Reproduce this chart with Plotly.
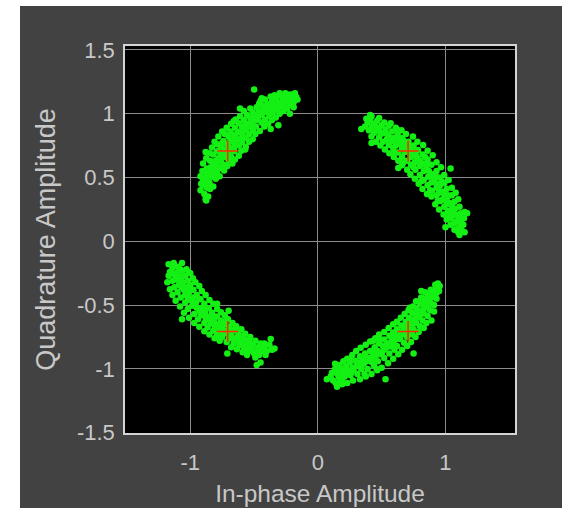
import plotly.graph_objects as go

# Received QPSK symbols (in-phase, quadrature), one cluster per quadrant
ul_i = [-0.86, -0.89, -0.92, -0.88, -0.875,
        -0.82, -0.85, -0.87, -0.90, -0.92, -0.86, -0.88,
        -0.77, -0.79, -0.83, -0.84, -0.87, -0.90, -0.81, -0.80,
        -0.71, -0.74, -0.76, -0.78, -0.80, -0.82, -0.85, -0.88, -0.75, -0.79,
        -0.65, -0.68, -0.70, -0.72, -0.74, -0.76, -0.79, -0.81, -0.71, -0.75, -0.57,
        -0.60, -0.62, -0.65, -0.67, -0.69, -0.70, -0.73, -0.75, -0.64, -0.66,
        -0.54, -0.56, -0.59, -0.61, -0.63, -0.65, -0.68, -0.58, -0.60, -0.66,
        -0.49, -0.51, -0.53, -0.55, -0.57, -0.58, -0.61, -0.52, -0.56, -0.61,
        -0.42, -0.44, -0.47, -0.48, -0.50, -0.51, -0.53, -0.46, -0.37, -0.46,
        -0.36, -0.38, -0.40, -0.42, -0.43, -0.45, -0.39, -0.31, -0.50, -0.44,
        -0.30, -0.32, -0.33, -0.35, -0.36, -0.37, -0.31, -0.34,
        -0.24, -0.26, -0.27, -0.28, -0.30, -0.25, -0.29, -0.22,
        -0.19, -0.20, -0.21, -0.18, -0.17, -0.24, -0.16, -0.19,
        -0.845, -0.87, -0.90, -0.915,
        -0.80, -0.83, -0.85, -0.875, -0.905,
        -0.735, -0.77, -0.80, -0.82, -0.845, -0.875,
        -0.67, -0.70, -0.735, -0.76, -0.79, -0.83,
        -0.62, -0.655, -0.685, -0.71, -0.74, -0.78,
        -0.565, -0.595, -0.625, -0.655, -0.685, -0.715,
        -0.51, -0.54, -0.57, -0.595, -0.62, -0.645,
        -0.455, -0.485, -0.51, -0.53, -0.555, -0.58,
        -0.39, -0.415, -0.44, -0.46, -0.48,
        -0.33, -0.355, -0.375, -0.395, -0.415,
        -0.27, -0.29, -0.305, -0.325, -0.34,
        -0.21, -0.225, -0.24, -0.255]
ul_q = [0.35, 0.37, 0.40, 0.33, 0.32,
        0.43, 0.46, 0.48, 0.48, 0.51, 0.44, 0.50,
        0.51, 0.55, 0.55, 0.58, 0.57, 0.61, 0.59, 0.52,
        0.59, 0.60, 0.63, 0.65, 0.63, 0.68, 0.69, 0.70, 0.66, 0.61,
        0.64, 0.66, 0.69, 0.72, 0.70, 0.74, 0.76, 0.78, 0.67, 0.77, 0.72,
        0.71, 0.75, 0.76, 0.79, 0.78, 0.82, 0.84, 0.86, 0.80, 0.73,
        0.78, 0.81, 0.83, 0.86, 0.85, 0.89, 0.92, 0.88, 0.80, 0.94,
        0.84, 0.87, 0.90, 0.92, 0.91, 0.95, 0.98, 0.94, 0.88, 1.04,
        0.90, 0.93, 0.95, 0.98, 0.97, 1.01, 1.04, 1.00, 0.88, 1.08,
        0.95, 0.98, 1.01, 1.03, 1.06, 1.10, 1.04, 0.91, 1.19, 1.12,
        1.00, 1.03, 1.06, 1.08, 1.10, 1.135, 1.07, 1.04,
        1.04, 1.07, 1.10, 1.13, 1.16, 1.12, 1.08, 1.00,
        1.09, 1.12, 1.15, 1.16, 1.13, 1.15, 1.11, 1.05,
        0.41, 0.42, 0.44, 0.45,
        0.49, 0.505, 0.52, 0.535, 0.55,
        0.555, 0.575, 0.595, 0.615, 0.63, 0.65,
        0.61, 0.635, 0.66, 0.68, 0.705, 0.735,
        0.67, 0.705, 0.73, 0.755, 0.785, 0.82,
        0.74, 0.775, 0.80, 0.83, 0.86, 0.89,
        0.80, 0.84, 0.87, 0.895, 0.925, 0.955,
        0.865, 0.90, 0.935, 0.965, 0.99, 1.02,
        0.92, 0.955, 0.99, 1.02, 1.05,
        0.97, 1.005, 1.045, 1.075, 1.11,
        1.02, 1.05, 1.085, 1.12, 1.145,
        1.07, 1.10, 1.13, 1.16]

ur_i = [0.37, 0.39, 0.41, 0.42, 0.41, 0.34, 0.38,
        0.42, 0.44, 0.46, 0.48, 0.50, 0.52, 0.45, 0.49, 0.42,
        0.49, 0.51, 0.54, 0.55, 0.57, 0.58, 0.61, 0.53, 0.56, 0.62,
        0.56, 0.59, 0.61, 0.63, 0.65, 0.66, 0.69, 0.62, 0.60, 0.67,
        0.63, 0.66, 0.68, 0.70, 0.72, 0.73, 0.75, 0.78, 0.67, 0.63, 0.74,
        0.70, 0.73, 0.76, 0.78, 0.80, 0.82, 0.86, 0.77, 0.75, 0.81, 0.84,
        0.76, 0.80, 0.83, 0.85, 0.87, 0.89, 0.93, 0.86, 0.81, 0.88, 1.04,
        0.82, 0.86, 0.89, 0.91, 0.93, 0.95, 0.99, 0.92, 0.88, 0.97,
        0.89, 0.93, 0.95, 0.97, 0.99, 1.01, 1.05, 0.98, 0.94, 1.02,
        0.95, 0.99, 1.01, 1.03, 1.05, 1.07, 1.10, 1.02, 1.06,
        1.01, 1.04, 1.06, 1.08, 1.10, 1.12, 1.15, 1.07, 1.17, 1.02,
        1.07, 1.10, 1.12, 1.14, 1.13, 1.10, 1.15, 1.00, 1.11,
        0.40, 0.42, 0.44, 0.465, 0.48,
        0.455, 0.48, 0.505, 0.53, 0.555, 0.57,
        0.525, 0.555, 0.58, 0.60, 0.625, 0.655,
        0.595, 0.63, 0.66, 0.68, 0.71, 0.745,
        0.66, 0.70, 0.73, 0.755, 0.785, 0.825,
        0.725, 0.765, 0.80, 0.825, 0.86, 0.90,
        0.79, 0.83, 0.865, 0.895, 0.93, 0.965,
        0.855, 0.895, 0.93, 0.955, 0.99, 1.025,
        0.92, 0.96, 0.99, 1.015, 1.05, 1.08,
        0.985, 1.02, 1.05, 1.075, 1.11,
        1.04, 1.07, 1.095, 1.12, 1.145]
ur_q = [0.90, 0.93, 0.95, 0.98, 0.99, 0.88, 0.96,
        0.82, 0.85, 0.87, 0.89, 0.91, 0.93, 0.90, 0.85, 0.77,
        0.75, 0.78, 0.80, 0.83, 0.81, 0.86, 0.89, 0.85, 0.77, 0.875,
        0.69, 0.73, 0.75, 0.78, 0.76, 0.81, 0.84, 0.81, 0.70, 0.79,
        0.63, 0.66, 0.70, 0.72, 0.69, 0.74, 0.75, 0.78, 0.62, 0.575, 0.71,
        0.56, 0.60, 0.62, 0.65, 0.63, 0.68, 0.71, 0.67, 0.58, 0.60, 0.66,
        0.49, 0.52, 0.55, 0.57, 0.55, 0.60, 0.62, 0.61, 0.47, 0.51, 0.57,
        0.41, 0.44, 0.46, 0.48, 0.45, 0.50, 0.52, 0.51, 0.40, 0.47,
        0.35, 0.36, 0.38, 0.39, 0.37, 0.41, 0.42, 0.33, 0.32, 0.36,
        0.25, 0.27, 0.29, 0.30, 0.28, 0.31, 0.33, 0.24, 0.25,
        0.17, 0.18, 0.20, 0.21, 0.19, 0.22, 0.23, 0.15, 0.22, 0.19,
        0.09, 0.10, 0.12, 0.13, 0.08, 0.07, 0.07, 0.11, 0.05,
        0.87, 0.895, 0.92, 0.945, 0.965,
        0.78, 0.815, 0.845, 0.875, 0.905, 0.925,
        0.72, 0.755, 0.785, 0.81, 0.84, 0.87,
        0.66, 0.695, 0.73, 0.75, 0.78, 0.82,
        0.595, 0.63, 0.66, 0.685, 0.715, 0.755,
        0.525, 0.56, 0.59, 0.61, 0.64, 0.675,
        0.45, 0.48, 0.505, 0.525, 0.55, 0.58,
        0.37, 0.395, 0.42, 0.435, 0.455, 0.48,
        0.29, 0.315, 0.33, 0.345, 0.36, 0.38,
        0.21, 0.23, 0.24, 0.255, 0.27,
        0.13, 0.14, 0.155, 0.165, 0.18]

ll_i = [-1.17, -1.13, -1.065, -1.10, -1.14, -1.08, -1.16,
        -1.00, -1.01, -1.04, -1.07, -1.09, -1.12, -1.14, -1.18, -1.06, -1.11,
        -0.96, -1.00, -1.03, -1.05, -1.07, -1.10, -1.14, -1.02, -1.08, -0.99,
        -0.91, -0.95, -0.98, -1.00, -1.02, -1.04, -1.08, -0.97, -1.03, -0.93,
        -0.85, -0.89, -0.91, -0.93, -0.95, -0.97, -1.01, -0.92, -0.88, -1.065, -0.79,
        -0.79, -0.83, -0.85, -0.86, -0.88, -0.89, -0.93, -0.84, -0.81, -0.70,
        -0.73, -0.76, -0.78, -0.79, -0.81, -0.82, -0.85, -0.77, -0.74, -0.71,
        -0.67, -0.70, -0.71, -0.72, -0.74, -0.75, -0.77, -0.69, -0.68, -0.71,
        -0.60, -0.62, -0.63, -0.64, -0.66, -0.66, -0.68, -0.61, -0.63,
        -0.53, -0.54, -0.55, -0.57, -0.58, -0.59, -0.53, -0.57,
        -0.45, -0.47, -0.48, -0.50, -0.46, -0.49, -0.48, -0.45,
        -0.37, -0.34, -0.38, -0.40, -0.42, -0.41, -0.36,
        -1.03, -1.065, -1.10, -1.135, -1.17,
        -0.98, -1.02, -1.06, -1.09, -1.125, -1.16,
        -0.93, -0.975, -1.01, -1.04, -1.075, -1.115,
        -0.88, -0.92, -0.955, -0.985, -1.02, -1.05,
        -0.82, -0.855, -0.885, -0.91, -0.94, -0.97,
        -0.76, -0.79, -0.815, -0.84, -0.865, -0.89,
        -0.705, -0.73, -0.75, -0.77, -0.79, -0.81,
        -0.64, -0.66, -0.68, -0.695, -0.715,
        -0.57, -0.585, -0.60, -0.615, -0.635,
        -0.49, -0.51, -0.52, -0.54, -0.555,
        -0.42, -0.435, -0.445, -0.46]
ll_q = [-0.18, -0.17, -0.17, -0.20, -0.21, -0.22, -0.24,
        -0.25, -0.245, -0.27, -0.28, -0.30, -0.30, -0.31, -0.32, -0.32, -0.26,
        -0.32, -0.34, -0.36, -0.38, -0.36, -0.40, -0.42, -0.40, -0.34, -0.38,
        -0.39, -0.42, -0.44, -0.46, -0.44, -0.48, -0.51, -0.48, -0.41, -0.45,
        -0.46, -0.49, -0.52, -0.54, -0.52, -0.57, -0.60, -0.57, -0.53, -0.61, -0.49,
        -0.53, -0.56, -0.59, -0.61, -0.60, -0.64, -0.67, -0.64, -0.59, -0.545,
        -0.58, -0.62, -0.65, -0.67, -0.66, -0.70, -0.73, -0.70, -0.65, -0.61,
        -0.64, -0.67, -0.70, -0.72, -0.71, -0.75, -0.78, -0.74, -0.69, -0.88,
        -0.69, -0.73, -0.75, -0.77, -0.76, -0.80, -0.83, -0.78, -0.70,
        -0.75, -0.78, -0.80, -0.82, -0.85, -0.87, -0.84, -0.77,
        -0.80, -0.83, -0.86, -0.88, -0.89, -0.91, -0.97, -0.95,
        -0.765, -0.84, -0.81, -0.86, -0.83, -0.89, -0.85,
        -0.22, -0.23, -0.245, -0.255, -0.27,
        -0.29, -0.31, -0.325, -0.34, -0.36, -0.375,
        -0.35, -0.38, -0.40, -0.42, -0.44, -0.465,
        -0.42, -0.455, -0.48, -0.505, -0.53, -0.56,
        -0.49, -0.525, -0.555, -0.58, -0.61, -0.64,
        -0.555, -0.59, -0.62, -0.645, -0.675, -0.705,
        -0.61, -0.645, -0.68, -0.705, -0.735, -0.76,
        -0.665, -0.70, -0.73, -0.76, -0.79,
        -0.725, -0.76, -0.79, -0.815, -0.845,
        -0.78, -0.81, -0.835, -0.86, -0.89,
        -0.80, -0.83, -0.86, -0.875]

lr_i = [0.07, 0.10, 0.12, 0.15, 0.14, 0.11, 0.135,
        0.17, 0.18, 0.20, 0.21, 0.23, 0.22, 0.19, 0.16,
        0.23, 0.25, 0.27, 0.28, 0.30, 0.31, 0.33, 0.26, 0.25,
        0.30, 0.33, 0.35, 0.36, 0.38, 0.39, 0.42, 0.34, 0.32, 0.37,
        0.375, 0.41, 0.43, 0.44, 0.46, 0.47, 0.50, 0.42, 0.435, 0.45, 0.46,
        0.45, 0.48, 0.51, 0.52, 0.54, 0.56, 0.59, 0.50, 0.49, 0.53, 0.55,
        0.52, 0.56, 0.58, 0.59, 0.61, 0.62, 0.66, 0.57, 0.60,
        0.59, 0.62, 0.65, 0.66, 0.68, 0.70, 0.73, 0.64, 0.62, 0.67, 0.75,
        0.65, 0.69, 0.71, 0.72, 0.74, 0.75, 0.79, 0.70, 0.72, 0.73,
        0.71, 0.74, 0.77, 0.78, 0.80, 0.82, 0.85, 0.76, 0.89, 0.79,
        0.77, 0.80, 0.83, 0.84, 0.86, 0.88, 0.91, 0.82, 0.81,
        0.84, 0.86, 0.88, 0.89, 0.91, 0.93, 0.81, 0.90,
        0.93, 0.955, 0.94, 0.95, 0.92,
        0.135, 0.15, 0.165, 0.18, 0.19,
        0.20, 0.22, 0.24, 0.255, 0.275,
        0.27, 0.295, 0.32, 0.34, 0.365, 0.375,
        0.335, 0.37, 0.395, 0.42, 0.44, 0.465,
        0.41, 0.445, 0.47, 0.495, 0.52, 0.55,
        0.48, 0.52, 0.545, 0.575, 0.60, 0.63,
        0.555, 0.59, 0.615, 0.645, 0.675, 0.70,
        0.62, 0.655, 0.685, 0.71, 0.74, 0.765,
        0.68, 0.715, 0.745, 0.77, 0.80, 0.83,
        0.745, 0.775, 0.805, 0.83, 0.86,
        0.81, 0.84, 0.865, 0.885, 0.91,
        0.885, 0.91, 0.93]
lr_q = [-1.08, -1.06, -1.09, -1.14, -1.11, -1.03, -0.96,
        -0.97, -1.00, -1.03, -1.06, -1.11, -1.02, -1.08, -1.05,
        -0.92, -0.95, -0.99, -1.01, -0.98, -1.04, -1.08, -1.03, -0.92,
        -0.86, -0.90, -0.93, -0.96, -0.94, -1.00, -1.04, -0.99, -0.95, -0.89,
        -0.81, -0.86, -0.88, -0.91, -0.89, -0.94, -0.99, -0.94, -0.78, -0.85, -1.00,
        -0.76, -0.80, -0.82, -0.85, -0.83, -0.88, -0.92, -0.88, -0.77, -1.08, -0.80,
        -0.71, -0.74, -0.77, -0.79, -0.77, -0.82, -0.85, -0.82, -0.73,
        -0.65, -0.69, -0.71, -0.73, -0.71, -0.75, -0.79, -0.76, -0.635, -0.67, -0.88,
        -0.60, -0.63, -0.65, -0.67, -0.65, -0.69, -0.71, -0.69, -0.52, -0.61,
        -0.54, -0.56, -0.58, -0.60, -0.58, -0.62, -0.64, -0.62, -0.62, -0.55,
        -0.47, -0.49, -0.50, -0.52, -0.51, -0.54, -0.55, -0.54, -0.45,
        -0.40, -0.42, -0.43, -0.44, -0.42, -0.45, -0.39, -0.40,
        -0.37, -0.35, -0.33, -0.39, -0.34,
        -1.00, -1.035, -1.065, -1.095, -1.12,
        -0.94, -0.98, -1.02, -1.05, -1.09,
        -0.89, -0.935, -0.97, -1.00, -1.04, -1.06,
        -0.835, -0.88, -0.915, -0.945, -0.975, -1.01,
        -0.785, -0.83, -0.86, -0.885, -0.915, -0.955,
        -0.73, -0.77, -0.80, -0.825, -0.85, -0.885,
        -0.68, -0.715, -0.74, -0.765, -0.795, -0.82,
        -0.63, -0.66, -0.685, -0.70, -0.73, -0.75,
        -0.57, -0.60, -0.62, -0.64, -0.665, -0.68,
        -0.51, -0.53, -0.545, -0.565, -0.585,
        -0.44, -0.455, -0.47, -0.485, -0.50,
        -0.38, -0.39, -0.405]

# Ideal reference constellation points
ref_i = [-0.7071, 0.7071, -0.7071, 0.7071]
ref_q = [0.7071, 0.7071, -0.7071, -0.7071]

# Axis ticks
x_ticks = [-1, 0, 1]
x_tick_text = ["-1", "0", "1"]
y_ticks = [-1.5, -1, -0.5, 0, 0.5, 1, 1.5]
y_tick_text = ["-1.5", "-1", "-0.5", "0", "0.5", "1", "1.5"]

sym_i = ul_i + ur_i + ll_i + lr_i
sym_q = ul_q + ur_q + ll_q + lr_q

BG = "#424242"
TXT = "#c8c8c8"
FONT = "Liberation Sans, Arial, sans-serif"

fig = go.Figure()
fig.add_trace(go.Scatter(
    x=sym_i, y=sym_q, mode="markers",
    marker=dict(color="#14f014", size=6.5, line=dict(width=0)),
    hoverinfo="skip", showlegend=False))
fig.add_trace(go.Scatter(
    x=ref_i, y=ref_q, mode="markers",
    marker=dict(symbol="cross-thin", size=15, line=dict(color="#ff2a00", width=1.5)),
    hoverinfo="skip", showlegend=False))

axis_common = dict(
    showgrid=True, gridcolor="#8c8c8c", gridwidth=1,
    zeroline=False, showline=True, linecolor="#d4d4d4", linewidth=1.5, mirror=True,
    ticks="", automargin=False, tickfont=dict(family=FONT, size=22, color=TXT),
)

fig.update_layout(
    width=562, height=508,
    margin=dict(l=125, r=47, t=46, b=75, pad=0),
    paper_bgcolor=BG, plot_bgcolor="#000000",
    xaxis=dict(range=[-1.512, 1.545], tickvals=x_ticks, ticktext=x_tick_text,
               ticklabelstandoff=9,
               title=dict(text="In-phase Amplitude", standoff=11,
                          font=dict(family=FONT, size=24.5, color=TXT)),
               **axis_common),
    yaxis=dict(range=[-1.502, 1.53], tickvals=y_ticks, ticktext=y_tick_text,
               ticklabelstandoff=4,
               title=dict(text="Quadrature Amplitude", standoff=13,
                          font=dict(family=FONT, size=27, color=TXT)),
               **axis_common),
    shapes=[
        dict(type="rect", xref="paper", yref="paper", layer="above",
             x0=-125 / 390, x1=-105 / 390, y0=-75 / 387, y1=433 / 387,
             fillcolor="#ffffff", line=dict(width=0)),
        dict(type="rect", xref="paper", yref="paper", layer="above",
             x0=-125 / 390, x1=437 / 390, y0=427 / 387, y1=433 / 387,
             fillcolor="#ffffff", line=dict(width=0)),
    ],
)

fig.write_html("out.html")
